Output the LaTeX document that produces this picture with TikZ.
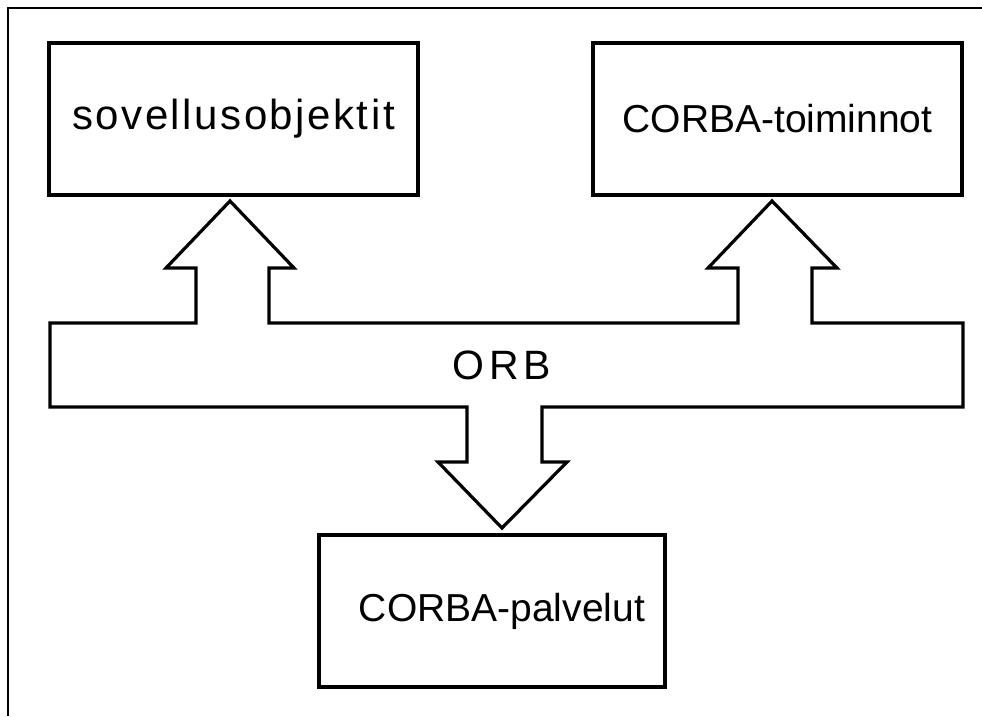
\documentclass[tikz,border=0pt]{standalone}
\usepackage{fontspec}
\newfontfamily\arialfont{Liberation Sans}
\usetikzlibrary{positioning}

\begin{document}
\begin{tikzpicture}[x=1pt, y=-1pt]
	\tikzset{layer/.style={draw, line width=3.2pt, inner sep=0pt, minimum height=152pt, font=\arialfont\fontsize{39}{46}\selectfont}}
	\tikzset{band/.style={draw, line width=3.2pt, miter limit=4}}

	\useasboundingbox (0,0) rectangle (982,716);
	\draw[line width=2.2pt] (982,8) -- (8,8) -- (8,716);

	% the three boxes
	\node[layer, minimum width=369pt] (apps) at (233.5,119) {\fontsize{42}{48}\selectfont\addfontfeature{LetterSpace=6}sovellusobjektit};
	\node[layer, minimum width=369pt] (facil) at (777.5,119) {CORBA-toiminnot};
	\node[layer, minimum width=346pt] (serv) at (492,611) {\hspace*{20pt}CORBA-palvelut};

	% the ORB band with its arrows
	\draw[band] (50,323) -- (196,323) -- (196,268) -- (166,268) -- (230,201) -- (294,268) -- (269,268) -- (269,323)
		-- (738,323) -- (738,268) -- (708,268) -- (772,201) -- (837,268) -- (812,268) -- (812,323)
		-- (963,323) -- (963,407) -- (542,407) -- (542,462) -- (567,462) -- (502,528) -- (438,462)
		-- (467,462) -- (467,407) -- (50,407) -- cycle;
	\node[font=\arialfont\fontsize{41}{46}\selectfont\addfontfeature{LetterSpace=12}] (orb) at (502,365) {ORB};
\end{tikzpicture}
\end{document}
